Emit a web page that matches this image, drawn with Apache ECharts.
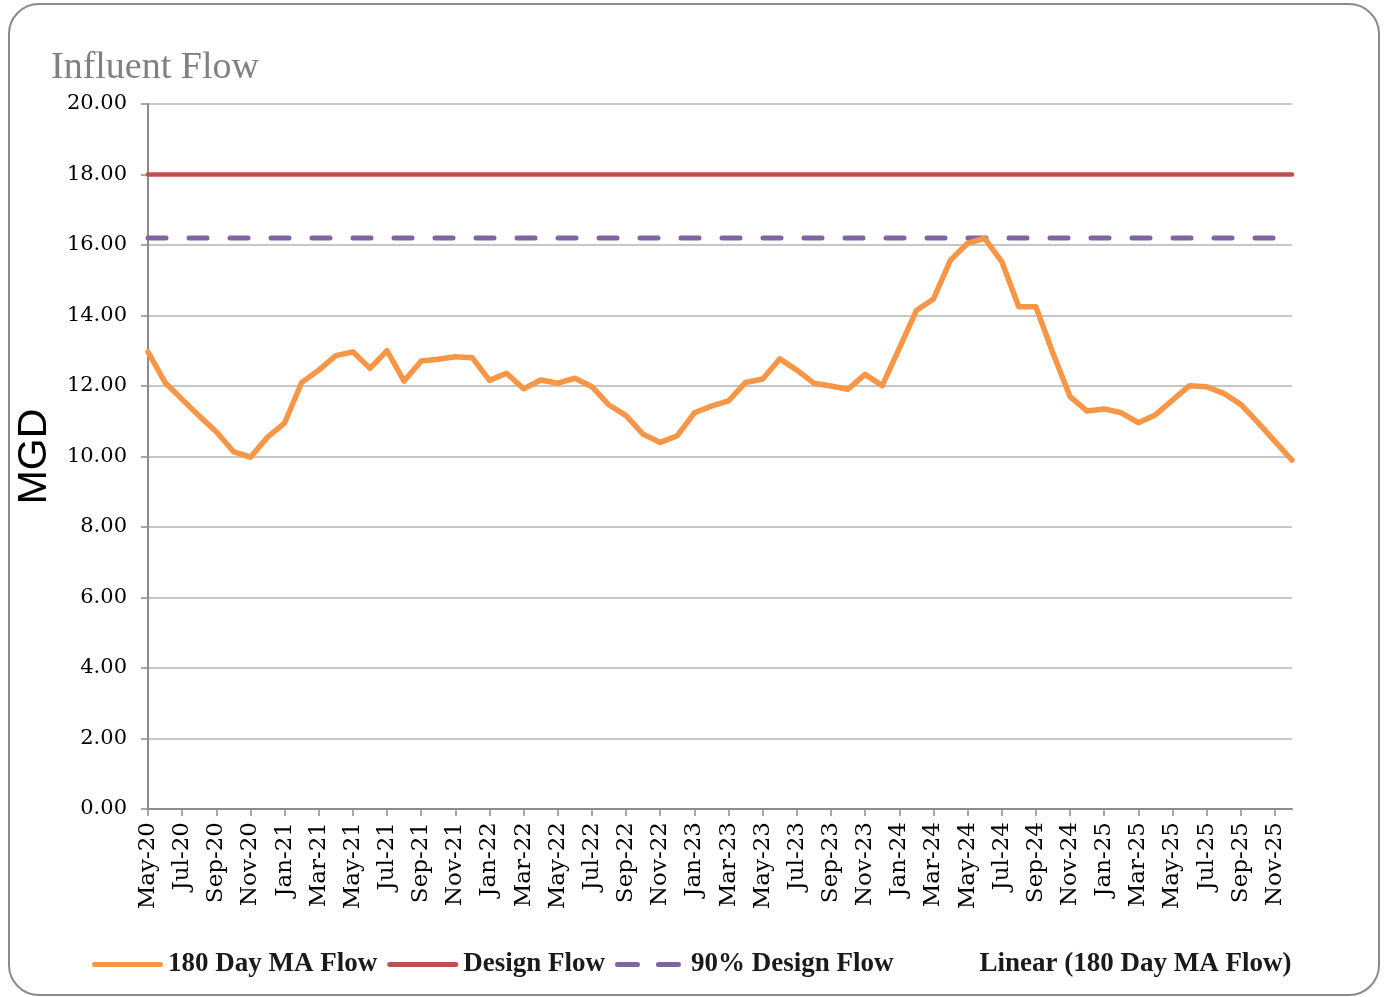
<!DOCTYPE html>
<html>
<head>
<meta charset="utf-8">
<title>Influent Flow</title>
<script src="https://cdn.jsdelivr.net/npm/echarts@6/dist/echarts.min.js"></script>
<style>
    html, body { margin: 0; padding: 0; background: #ffffff; }
    #chart { width: 1384px; height: 997px; }
</style>
</head>
<body>
<div id="chart"></div>
<script>
    const months = [
        'May-20', 'Jun-20', 'Jul-20', 'Aug-20', 'Sep-20', 'Oct-20', 'Nov-20', 'Dec-20',
        'Jan-21', 'Feb-21', 'Mar-21', 'Apr-21', 'May-21', 'Jun-21', 'Jul-21', 'Aug-21', 'Sep-21', 'Oct-21', 'Nov-21', 'Dec-21',
        'Jan-22', 'Feb-22', 'Mar-22', 'Apr-22', 'May-22', 'Jun-22', 'Jul-22', 'Aug-22', 'Sep-22', 'Oct-22', 'Nov-22', 'Dec-22',
        'Jan-23', 'Feb-23', 'Mar-23', 'Apr-23', 'May-23', 'Jun-23', 'Jul-23', 'Aug-23', 'Sep-23', 'Oct-23', 'Nov-23', 'Dec-23',
        'Jan-24', 'Feb-24', 'Mar-24', 'Apr-24', 'May-24', 'Jun-24', 'Jul-24', 'Aug-24', 'Sep-24', 'Oct-24', 'Nov-24', 'Dec-24',
        'Jan-25', 'Feb-25', 'Mar-25', 'Apr-25', 'May-25', 'Jun-25', 'Jul-25', 'Aug-25', 'Sep-25', 'Oct-25', 'Nov-25', 'Dec-25'
    ];

    // 180 day moving average flow, MGD
    const maFlow = [
        12.97, 12.10, 11.62, 11.15, 10.70, 10.14, 9.98, 10.55,
        10.95, 12.10, 12.45, 12.86, 12.97, 12.50, 13.00, 12.14, 12.71, 12.76, 12.83, 12.80,
        12.16, 12.36, 11.92, 12.17, 12.08, 12.22, 11.98, 11.46, 11.16, 10.63, 10.40, 10.59,
        11.24, 11.43, 11.58, 12.10, 12.20, 12.77, 12.45, 12.08, 12.00, 11.91, 12.33, 12.01,
        13.07, 14.14, 14.47, 15.57, 16.05, 16.19, 15.53, 14.25, 14.25, 12.93, 11.70, 11.29,
        11.35, 11.24, 10.96, 11.18, 11.60, 12.01, 11.98, 11.79, 11.48, 10.97, 10.43, 9.90
    ];

    const DESIGN_FLOW = 18.00;
    const DESIGN_FLOW_90 = 16.20;

    const seriesNames = ['180 Day MA Flow', 'Design Flow', '90% Design Flow', 'Linear (180 Day MA Flow)'];
    const yTicks = [0, 2, 4, 6, 8, 10, 12, 14, 16, 18, 20];

    const firstMonth = months[0];
    const lastMonth = months[months.length - 1];

    const chart = echarts.init(document.getElementById('chart'));

    const axisFont = 'DejaVu Serif';
    const solidIcon = 'path://M2.5,0H68.5A2.5,2.5,0,0,1,68.5,5H2.5A2.5,2.5,0,0,1,2.5,0Z';
    const dashIcon = 'path://M2.5,0H22.5A2.5,2.5,0,0,1,22.5,5H2.5A2.5,2.5,0,0,1,2.5,0Z'
        + 'M43.5,0H63.5A2.5,2.5,0,0,1,63.5,5H43.5A2.5,2.5,0,0,1,43.5,0Z'
        + 'M70.9,0H71V5H70.9Z';

    const option = {
        animation: false,
        backgroundColor: '#ffffff',
        graphic: [
            {
                type: 'rect',
                shape: { x: 9, y: 4, width: 1370, height: 991, r: 30 },
                style: { fill: 'none', stroke: '#8a8a8a', lineWidth: 2 },
                z: -1
            }
        ],
        title: {
            text: 'Influent Flow',
            left: 46,
            top: 44,
            textStyle: {
                fontFamily: 'Liberation Serif',
                fontWeight: 'normal',
                fontSize: 38,
                color: '#808080'
            }
        },
        legend: {
            data: [
                { name: seriesNames[0], icon: solidIcon },
                { name: seriesNames[1], icon: solidIcon },
                { name: seriesNames[2], icon: dashIcon },
                { name: seriesNames[3], icon: solidIcon }
            ],
            left: 87,
            top: 946,
            itemWidth: 71,
            itemHeight: 5,
            itemGap: 10,
            textStyle: {
                fontFamily: 'Liberation Serif',
                fontWeight: 'bold',
                fontSize: 27,
                color: '#1a1a1a'
            }
        },
        grid: {
            left: 148,
            right: 92,
            top: 104,
            bottom: 188,
            containLabel: false
        },
        xAxis: {
            type: 'category',
            data: months,
            boundaryGap: false,
            axisLine: { show: true, lineStyle: { color: '#8c8c8c', width: 2 } },
            axisTick: { show: true, interval: 1, length: 7, lineStyle: { color: '#8c8c8c', width: 1.5 } },
            axisLabel: {
                interval: 1,
                rotate: 90,
                margin: 13,
                fontFamily: axisFont,
                fontSize: 23,
                color: '#000000'
            },
            splitLine: { show: false }
        },
        yAxis: {
            type: 'value',
            min: yTicks[0],
            max: yTicks[yTicks.length - 1],
            interval: 2,
            name: 'MGD',
            nameLocation: 'middle',
            nameRotate: 90,
            nameGap: 93,
            nameTextStyle: {
                fontFamily: 'Liberation Sans',
                fontSize: 41,
                color: '#000000'
            },
            axisLine: { show: true, lineStyle: { color: '#8c8c8c', width: 2 } },
            axisTick: { show: true, length: 7, lineStyle: { color: '#8c8c8c', width: 1.5 } },
            axisLabel: {
                fontFamily: axisFont,
                fontSize: 21,
                color: '#000000',
                margin: 21,
                formatter: v => v.toFixed(2)
            },
            splitLine: { show: true, lineStyle: { color: '#b4b4b4', width: 1.5 } }
        },
        series: [
            {
                name: seriesNames[0],
                type: 'line',
                data: maFlow,
                symbol: 'none',
                z: 5,
                lineStyle: { color: '#F79646', width: 5.5, cap: 'round', join: 'round' },
                itemStyle: { color: '#F79646' }
            },
            {
                name: seriesNames[1],
                type: 'line',
                data: [[firstMonth, DESIGN_FLOW], [lastMonth, DESIGN_FLOW]],
                symbol: 'none',
                z: 4,
                lineStyle: { color: '#C0504D', width: 4.5, cap: 'round' },
                itemStyle: { color: '#C0504D' }
            },
            {
                name: seriesNames[2],
                type: 'line',
                data: [[firstMonth, DESIGN_FLOW_90], [lastMonth, DESIGN_FLOW_90]],
                symbol: 'none',
                z: 4,
                lineStyle: { color: '#8064A2', width: 5, type: [18, 23], cap: 'round' },
                itemStyle: { color: '#8064A2' }
            },
            {
                name: seriesNames[3],
                type: 'line',
                data: [],
                symbol: 'none',
                lineStyle: { color: 'rgba(0,0,0,0)', width: 0 },
                itemStyle: { color: 'rgba(0,0,0,0)' }
            }
        ]
    };

    chart.setOption(option);
</script>
</body>
</html>
